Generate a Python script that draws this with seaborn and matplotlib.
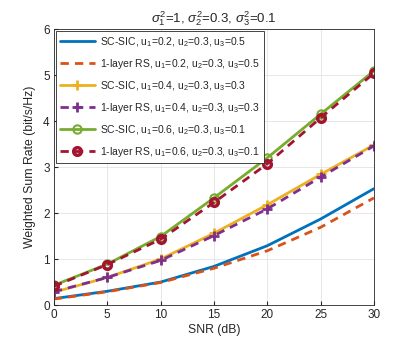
import matplotlib
matplotlib.use("Agg")
import matplotlib.pyplot as plt
import seaborn as sns
import pandas as pd

snr = [0, 5, 10, 15, 20, 25, 30]
sc_02 = [0.14, 0.30, 0.50, 0.84, 1.29, 1.87, 2.53]
rs_02 = [0.13, 0.29, 0.49, 0.80, 1.18, 1.69, 2.33]
sc_04 = [0.28, 0.60, 1.00, 1.56, 2.18, 2.84, 3.48]
rs_04 = [0.29, 0.60, 0.97, 1.51, 2.09, 2.78, 3.46]
sc_06 = [0.43, 0.89, 1.49, 2.33, 3.20, 4.15, 5.09]
rs_06 = [0.41, 0.88, 1.43, 2.23, 3.07, 4.07, 5.04]

labels = [
    "SC-SIC, u$_1$=0.2, u$_2$=0.3, u$_3$=0.5",
    "1-layer RS, u$_1$=0.2, u$_2$=0.3, u$_3$=0.5",
    "SC-SIC, u$_1$=0.4, u$_2$=0.3, u$_3$=0.3",
    "1-layer RS, u$_1$=0.4, u$_2$=0.3, u$_3$=0.3",
    "SC-SIC, u$_1$=0.6, u$_2$=0.3, u$_3$=0.1",
    "1-layer RS, u$_1$=0.6, u$_2$=0.3, u$_3$=0.1",
]
series = [sc_02, rs_02, sc_04, rs_04, sc_06, rs_06]
colors = ["#0072BD", "#D95319", "#EDB120", "#7E2F8E", "#77AC30", "#A2142F"]
dashed = [False, True, False, True, False, True]
markers = ["None", "None", "+", "+", "o", "o"]

sns.set_style("whitegrid")
plt.rcParams["font.family"] = ["Liberation Sans", "DejaVu Sans"]
plt.rcParams["mathtext.fontset"] = "custom"
plt.rcParams["mathtext.rm"] = "Liberation Sans"
plt.rcParams["mathtext.it"] = "Liberation Sans:italic"
plt.rcParams["mathtext.bf"] = "Liberation Sans:bold"

fig = plt.figure(figsize=(4.15, 3.42), dpi=100)
ax = fig.add_axes([0.130, 0.108, 0.771, 0.807])

for i, (vals, lab) in enumerate(zip(series, labels)):
    df = pd.DataFrame({"SNR": snr, "WSR": vals})
    n_before = len(ax.lines)
    sns.lineplot(data=df, x="SNR", y="WSR", color=colors[i], linewidth=2.0,
                 label=lab, ax=ax)
    ln = ax.lines[n_before]
    if dashed[i]:
        ln.set_linestyle((0, (3.0, 2.2)))
    ln.set_marker(markers[i])
    ln.set_markeredgecolor(colors[i])
    ln.set_markerfacecolor("none")
    if markers[i] == "+":
        ln.set_markersize(7.5)
        ln.set_markeredgewidth(2.0)
    elif markers[i] == "o":
        ln.set_markersize(6.0 if i == 4 else 5.5)
        ln.set_markeredgewidth(1.5 if i == 4 else 2.5)

ax.set_xlim(0, 30)
ax.set_ylim(0, 6)
ax.set_xticks([0, 5, 10, 15, 20, 25, 30])
ax.set_yticks([0, 1, 2, 3, 4, 5, 6])
ax.tick_params(labelsize=8.5, length=3, direction="in", colors="#262626",
               bottom=True, left=True, pad=3)
ax.grid(True, color="#e3e3e3", linewidth=0.6)
for s in ax.spines.values():
    s.set_color("#262626")
    s.set_linewidth(0.6)
ax.set_xlabel("SNR (dB)", fontsize=8.8, color="#262626", labelpad=2)
ax.set_ylabel("Weighted Sum Rate (bit/s/Hz)", fontsize=8.8, color="#262626", labelpad=5)
ax.set_title(r"$\sigma_1^2$=1, $\sigma_2^2$=0.3, $\sigma_3^2$=0.1", fontsize=9.5, pad=5)

leg = ax.legend(loc="upper left", fontsize=7.5, frameon=True, fancybox=False,
                edgecolor="#262626", handlelength=3.3, labelspacing=0.78,
                borderaxespad=0.15, handletextpad=0.5, borderpad=0.45,
                framealpha=1)
leg.get_frame().set_linewidth(0.6)

fig.savefig("out.png", dpi=100)
